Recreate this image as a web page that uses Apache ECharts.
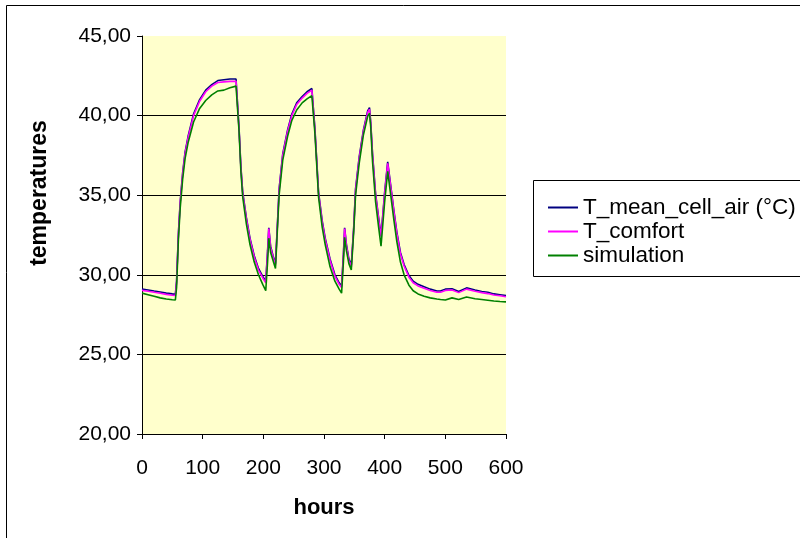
<!DOCTYPE html>
<html>
<head>
<meta charset="utf-8">
<script src="https://cdn.jsdelivr.net/npm/echarts@6/dist/echarts.min.js"></script>
<style>
html,body{margin:0;padding:0;background:#fff;}
#c{width:800px;height:538px;}
</style>
</head>
<body>
<div id="c"></div>
<script>
const hours = [0,10,20,30,40,50,55,57,60,63,67,71,76,85,95,105,115,125,135,145,155,157,160,163,166,172,178,185,192,199,204,207,209,212,216,220,223,226,232,240,247,255,264,272,280,282,285,291,297,302,310,318,325,329,332,334,337,341,345,349,352,358,365,372,375,377,380,385,390,394,397,400,405,410,415,420,426,432,440,447,455,465,475,486,492,500,511,522,535,549,560,570,580,590,600];

const tMeanCellAir = [29.10,29.05,28.98,28.92,28.85,28.80,28.78,29.6,32.6,34.6,36.4,37.7,38.7,40.1,41.0,41.6,41.95,42.2,42.25,42.3,42.3,42.3,39.2,36.8,35.2,33.6,32.3,31.2,30.4,29.9,29.6,31.5,32.95,31.8,31.2,30.7,33.0,35.4,37.6,39.1,40.1,40.8,41.2,41.5,41.7,41.75,39.2,35.2,33.4,32.3,31.0,30.0,29.5,29.3,31.3,32.95,31.9,31.0,30.6,33.0,35.4,37.4,39.1,40.3,40.5,39.6,37.6,35.1,33.6,32.5,33.8,35.2,37.1,35.6,34.1,32.7,31.4,30.65,29.95,29.6,29.4,29.25,29.1,28.98,28.98,29.1,29.12,28.95,29.18,29.05,28.95,28.9,28.8,28.75,28.7];

const tComfort = [29.02,28.97,28.9,28.84,28.77,28.72,28.7,29.5,32.5,34.5,36.3,37.6,38.6,40.0,40.9,41.5,41.85,42.08,42.12,42.15,42.15,42.15,39.1,36.7,35.1,33.5,32.2,31.1,30.3,29.8,29.5,31.4,32.9,31.7,31.1,30.6,32.9,35.3,37.5,39.0,40.0,40.7,41.1,41.4,41.6,41.65,39.1,35.1,33.3,32.2,30.9,29.9,29.4,29.2,31.2,32.9,31.8,30.9,30.5,32.9,35.3,37.3,39.0,40.2,40.4,39.5,37.5,35.0,33.5,32.4,33.7,35.1,37.0,35.5,34.0,32.6,31.3,30.55,29.85,29.5,29.3,29.15,29.02,28.9,28.9,29.02,29.05,28.88,29.1,28.97,28.88,28.82,28.73,28.68,28.62];

const simulation = [28.85,28.75,28.65,28.55,28.48,28.43,28.42,29.2,32.2,34.2,36.0,37.3,38.3,39.6,40.45,40.95,41.3,41.55,41.6,41.75,41.85,41.85,39.0,36.5,34.9,33.2,31.9,30.8,30.0,29.4,29.0,30.8,32.3,31.4,30.9,30.4,32.7,35.0,37.2,38.7,39.7,40.35,40.8,41.05,41.25,41.3,38.9,34.9,33.0,31.9,30.5,29.6,29.1,28.85,30.8,32.35,31.5,30.7,30.3,32.7,35.0,37.0,38.8,39.95,40.15,39.3,37.1,34.6,33.0,31.8,33.2,34.6,36.5,35.0,33.5,32.1,30.8,30.0,29.35,29.0,28.8,28.65,28.55,28.48,28.45,28.42,28.55,28.45,28.6,28.5,28.45,28.4,28.35,28.32,28.3];

const seriesNames = ['T_mean_cell_air (°C)', 'T_comfort', 'simulation'];
const seriesColors = ['#000080', '#FF00FF', '#008000'];
const seriesValues = [tMeanCellAir, tComfort, simulation];

const FONT = 'Liberation Sans, Arial, sans-serif';
const chart = echarts.init(document.getElementById('c'), null, {renderer: 'canvas'});

const option = {
  animation: false,
  backgroundColor: '#ffffff',
  grid: {
    left: 142, top: 36, width: 364, height: 398,
    show: true, backgroundColor: '#FFFFCC', borderWidth: 0
  },
  xAxis: {
    type: 'value', min: 0, max: 600, interval: 100,
    axisLine: {show: true, onZero: false, lineStyle: {color: '#000', width: 1}},
    axisTick: {show: true, inside: false, length: 5, lineStyle: {color: '#000'}},
    axisLabel: {color: '#000', fontFamily: FONT, fontSize: 21, margin: 24},
    splitLine: {show: false}
  },
  yAxis: {
    type: 'value', min: 20, max: 45, interval: 5,
    axisLine: {show: true, lineStyle: {color: '#000', width: 1}},
    axisTick: {show: true, inside: false, length: 5, lineStyle: {color: '#000'}},
    axisLabel: {
      color: '#000', fontFamily: FONT, fontSize: 21, margin: 11,
      formatter: v => v.toFixed(2).replace('.', ',')
    },
    splitLine: {show: true, showMinLine: false, showMaxLine: false, lineStyle: {color: '#000', width: 1}}
  },
  legend: {
    orient: 'vertical', left: 543, top: 191,
    itemWidth: 30, itemHeight: 2, itemGap: 1,
    icon: 'rect',
    textStyle: {color: '#000', fontFamily: FONT, fontSize: 22.5},
    data: seriesNames
  },
  graphic: [
    {type: 'rect', z: 0, silent: true, shape: {x: 6.5, y: 5.5, width: 820, height: 560}, style: {fill: 'none', stroke: '#000', lineWidth: 1}},
    {type: 'rect', z: 0, silent: true, shape: {x: 533.5, y: 180.5, width: 300, height: 96}, style: {fill: '#fff', stroke: '#000', lineWidth: 1}},
    {type: 'text', z: 10, x: 324, y: 508, style: {text: 'hours', font: 'bold 22px ' + FONT, fill: '#000', textAlign: 'center', textVerticalAlign: 'middle'}},
    {type: 'text', z: 10, rotation: Math.PI / 2, x: 40, y: 193, style: {text: 'temperatures', font: 'bold 23px ' + FONT, fill: '#000', textAlign: 'center', textVerticalAlign: 'middle'}}
  ],
  series: seriesNames.map((name, i) => ({
    name: name,
    type: 'line',
    symbol: 'none',
    smooth: false,
    z: 3 + i,
    lineStyle: {color: seriesColors[i], width: 1.6},
    itemStyle: {color: seriesColors[i]},
    data: hours.map((h, k) => [h, seriesValues[i][k]])
  }))
};
chart.setOption(option);
</script>
</body>
</html>
